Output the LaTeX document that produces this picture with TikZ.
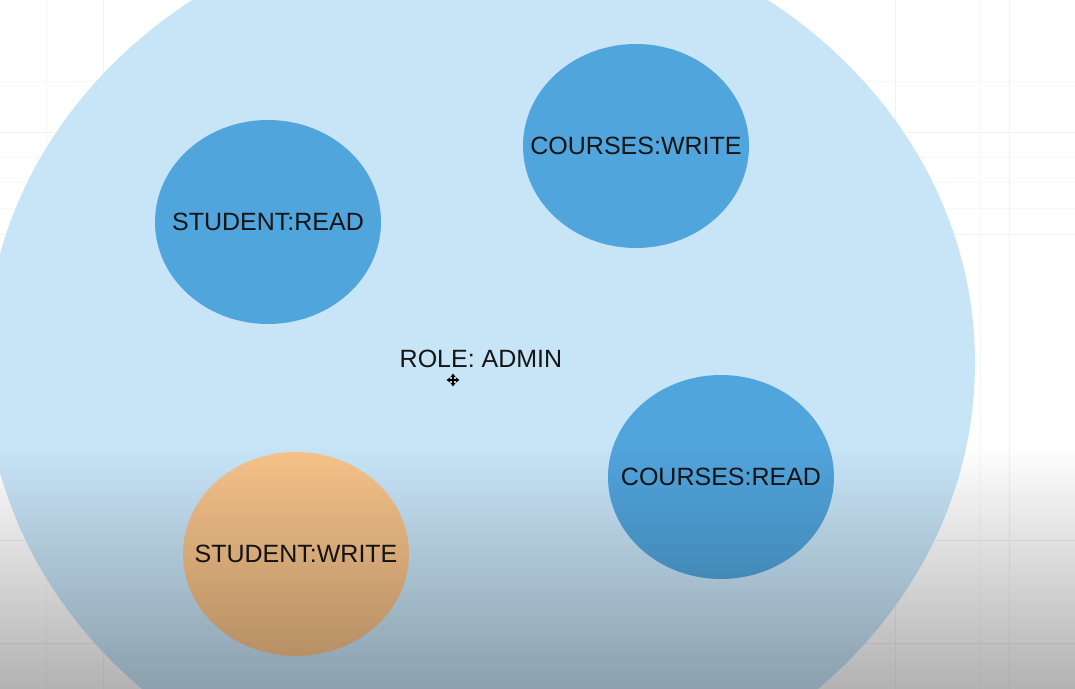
\documentclass[tikz,border=0pt]{standalone}
\usepackage{fontspec}
\setmainfont{Liberation Sans}
\usetikzlibrary{shapes.geometric,fadings,arrows.meta}
\definecolor{rolebg}{HTML}{C8E5F8}
\definecolor{permblue}{HTML}{51A5DD}
\definecolor{permorange}{HTML}{F7C38A}
\definecolor{gridln}{HTML}{F2F2F2}
\definecolor{gridlnlt}{HTML}{F7F7F7}
\definecolor{txt}{HTML}{151515}
\tikzfading[name=fadedown, top color=transparent!100, bottom color=transparent!0]
\begin{document}
\begin{tikzpicture}[x=0.5pt,y=-0.5pt,
  labelfont/.style={font=\fontsize{12.5}{14}\selectfont, text=txt},
  perm/.style={ellipse, inner sep=0pt, minimum width=113pt, minimum height=102pt},
  gridline/.style={draw=gridln, line width=0.5pt},
  gridlinelt/.style={draw=gridlnlt, line width=0.5pt},
  curarrow/.style={line width=0.7pt, draw=black, {Triangle[length=1.8pt,width=2.6pt]}-{Triangle[length=1.8pt,width=2.6pt]}}]
\useasboundingbox (0,0) rectangle (1075,689);
\clip (0,0) rectangle (1075,689);
\fill[white] (0,0) rectangle (1075,689);
\foreach \x in {46,980} \draw[gridlinelt] (\x,0) -- (\x,689);
\foreach \y in {82,158,183,209} \draw[gridlinelt] (0,\y) -- (1075,\y);
\foreach \x in {103,895,1009} \draw[gridline] (\x,0) -- (\x,689);
\foreach \y in {133,235,540,643} \draw[gridline] (0,\y) -- (1075,\y);
\node[ellipse, fill=rolebg, inner sep=0pt, minimum width=495pt, minimum height=446pt] (role) at (480,363) {};
\node[labelfont] (rolelabel) at (481,359) {ROLE: ADMIN};
\node[perm, fill=permblue, label={[labelfont]center:STUDENT:READ}] (sr) at (268,222) {};
\node[perm, fill=permblue, label={[labelfont]center:COURSES:WRITE}] (cw) at (636,146) {};
\node[perm, fill=permblue, label={[labelfont]center:COURSES:READ}] (cr) at (721,477) {};
\node[perm, fill=permorange, label={[labelfont]center:STUDENT:WRITE}] (sw) at (296,554) {};
\coordinate (cur) at (453,380);
\draw[curarrow] ([xshift=-3.2pt]cur) -- ([xshift=3.2pt]cur);
\draw[curarrow] ([yshift=-3.2pt]cur) -- ([yshift=3.2pt]cur);
\fill[black, opacity=0.3, path fading=fadedown] (0,445) rectangle (1075,689);
\end{tikzpicture}
\end{document}
